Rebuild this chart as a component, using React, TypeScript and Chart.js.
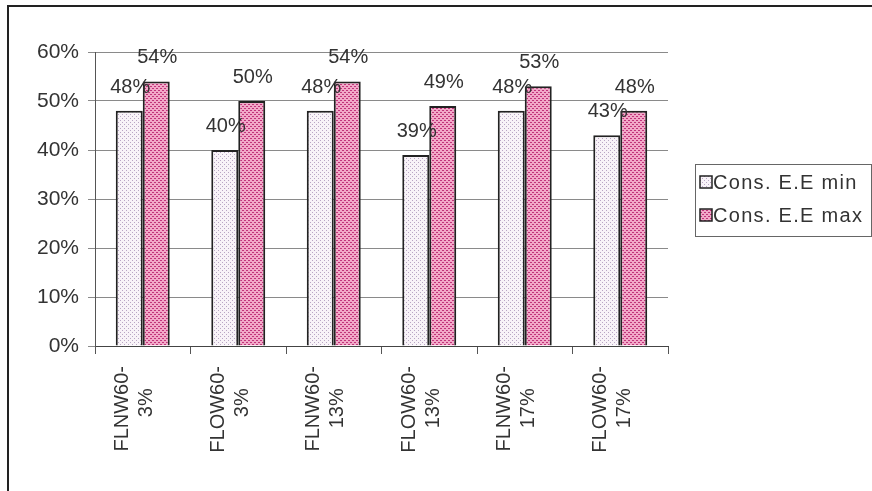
import React, { useEffect, useRef } from 'react';
import { Chart, registerables } from 'chart.js';

Chart.register(...registerables);

const categories: string[][] = [
  ['FLNW60-', '3%'],
  ['FLOW60-', '3%'],
  ['FLNW60-', '13%'],
  ['FLOW60-', '13%'],
  ['FLNW60-', '17%'],
  ['FLOW60-', '17%'],
];
const seriesNames = ['Cons. E.E min', 'Cons. E.E max'];
const minValues = [48, 40, 48, 39, 48, 43];
const maxValues = [54, 50, 54, 49, 53, 48];
const yMax = 60;
const yStep = 10;

const FONT = '"Liberation Sans", Arial, sans-serif';

function makePattern(base: string, dot: string, dense: boolean): CanvasPattern | string {
  const c = document.createElement('canvas');
  c.width = 4;
  c.height = 4;
  const x = c.getContext('2d');
  if (!x) return base;
  x.fillStyle = base;
  x.fillRect(0, 0, 4, 4);
  x.fillStyle = dot;
  x.fillRect(0, 0, 1, 1);
  x.fillRect(2, 2, 1, 1);
  if (dense) {
    x.fillRect(1, 0, 1, 1);
    x.fillRect(3, 2, 1, 1);
  }
  return x.createPattern(c, 'repeat') || base;
}

export default function App() {
  const ref = useRef<HTMLCanvasElement | null>(null);

  useEffect(() => {
    if (!ref.current) return;
    const minFill = makePattern('#f8f3f8', '#b9a6c4', false);
    const maxFill = makePattern('#f2a8c8', '#c0347a', true);
    const fills = [minFill, maxFill];

    const framePlugin = {
      id: 'frame',
      beforeDraw(chart: any) {
        const ctx = chart.ctx;
        ctx.save();
        ctx.fillStyle = '#ffffff';
        ctx.fillRect(0, 0, chart.width, chart.height);
        ctx.strokeStyle = '#222';
        ctx.lineWidth = 2;
        ctx.beginPath();
        ctx.moveTo(8, chart.height + 2);
        ctx.lineTo(8, 6);
        ctx.lineTo(chart.width + 2, 6);
        ctx.stroke();
        ctx.restore();
      },
    };

    const labelPlugin = {
      id: 'barLabels',
      afterDatasetsDraw(chart: any) {
        const ctx = chart.ctx;
        ctx.save();
        ctx.font = `20px ${FONT}`;
        ctx.fillStyle = '#333';
        ctx.textAlign = 'center';
        ctx.textBaseline = 'alphabetic';
        chart.data.datasets.forEach((ds: any, i: number) => {
          chart.getDatasetMeta(i).data.forEach((bar: any, j: number) => {
            ctx.fillText(`${ds.data[j]}%`, bar.x + 1, bar.y - 18);
          });
        });
        ctx.restore();
      },
    };

    const legendPlugin = {
      id: 'boxLegend',
      afterDraw(chart: any) {
        const ctx = chart.ctx;
        ctx.save();
        const bx = 695, by = 164, bw = 176, bh = 72;
        ctx.strokeStyle = '#666';
        ctx.lineWidth = 1;
        ctx.strokeRect(bx + 0.5, by + 0.5, bw, bh);
        ctx.font = `20px ${FONT}`;
        (ctx as any).letterSpacing = '1.3px';
        ctx.textAlign = 'left';
        ctx.textBaseline = 'middle';
        seriesNames.forEach((name, i) => {
          const cy = 182 + i * 33;
          ctx.fillStyle = fills[i] as any;
          ctx.fillRect(700, cy - 6, 12, 12);
          ctx.strokeStyle = '#222';
          ctx.lineWidth = 1.5;
          ctx.strokeRect(700, cy - 6, 12, 12);
          ctx.fillStyle = '#333';
          ctx.fillText(name, 713, cy + 1);
        });
        ctx.restore();
      },
    };

    const chart = new Chart(ref.current, {
      type: 'bar',
      data: {
        labels: categories,
        datasets: [
          {
            label: seriesNames[0],
            data: minValues,
            backgroundColor: minFill as any,
            borderColor: '#222',
            borderWidth: 2,
          },
          {
            label: seriesNames[1],
            data: maxValues,
            backgroundColor: maxFill as any,
            borderColor: '#222',
            borderWidth: 2,
          },
        ],
      },
      options: {
        animation: false,
        responsive: true,
        maintainAspectRatio: false,
        layout: { padding: { top: 52, right: 204, left: 0, bottom: 0 } },
        plugins: {
          legend: { display: false },
          tooltip: { enabled: false },
        },
        datasets: {
          bar: { categoryPercentage: 0.565, barPercentage: 1 },
        },
        scales: {
          x: {
            grid: { drawOnChartArea: false, offset: true, tickLength: 8, color: '#555' },
            border: { color: '#444', width: 1 },
            ticks: {
              minRotation: 90,
              maxRotation: 90,
              padding: 12,
              labelOffset: -20,
              color: '#333',
              font: { family: FONT, size: 20, lineHeight: 1.2 },
              callback: (_v: any, i: number) => {
                const lines = categories[i];
                return [lines[0], lines[1] + '\u00a0\u00a0\u00a0\u00a0'];
              },
            },
            afterFit(scale: any) {
              scale.height = 145;
            },
          },
          y: {
            min: 0,
            max: yMax,
            grid: { color: '#8a8a8a', tickLength: 7 },
            border: { color: '#555', width: 1 },
            ticks: {
              stepSize: yStep,
              padding: 9,
              color: '#333',
              font: { family: FONT, size: 21 },
              callback: (v: any) => `${v}%`,
            },
            afterFit(scale: any) {
              scale.width = 95;
            },
          },
        },
      },
      plugins: [framePlugin, labelPlugin, legendPlugin],
    });
    return () => chart.destroy();
  }, []);

  return (
    <div style={{ position: 'fixed', left: 0, top: 0, width: 872, height: 491 }}>
      <canvas ref={ref} />
    </div>
  );
}
